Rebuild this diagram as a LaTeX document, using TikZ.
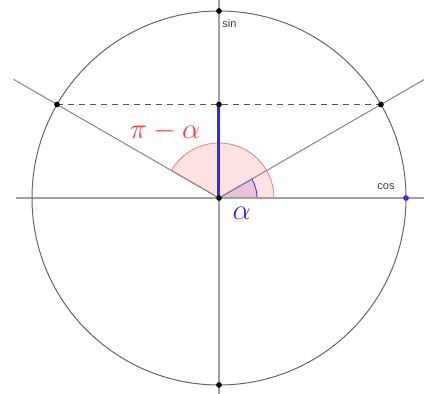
\documentclass[tikz,border=0pt]{standalone}
\usepackage{fontspec}
\newfontfamily\axisfont{Liberation Sans}
\usetikzlibrary{calc}
\definecolor{ggGrey}{HTML}{666666}
\definecolor{ggLight}{HTML}{A0A0A0}
\definecolor{ggDash}{HTML}{555555}
\definecolor{ggRed}{HTML}{FF3B3B}
\definecolor{ggBlue}{HTML}{2A2AFF}
\tikzset{
  axisline/.style  = {ggLight, line width=0.7pt},
  rayline/.style   = {ggGrey!80, line width=0.5pt},
  unitcirc/.style  = {ggGrey, line width=0.5pt},
  chord/.style     = {ggDash, dashed, dash pattern=on 3pt off 2.5pt, line width=0.5pt},
  sinseg/.style    = {ggBlue, line width=1.5pt},
  redsect/.style   = {fill=ggRed, fill opacity=0.15, draw=ggRed!70, line width=0.4pt},
  bluesect/.style  = {fill=ggBlue!60!ggRed, fill opacity=0.18, draw=ggBlue, line width=0.4pt},
  ptdot/.style     = {circle, fill=black, inner sep=1pt},
  bluedot/.style   = {circle, fill=ggBlue, inner sep=1pt},
  axlbl/.style     = {font=\axisfont\fontsize{5.5}{6}\selectfont, ggGrey!60!black},
}
\begin{document}
\begin{tikzpicture}[x=0.5pt, y=0.5pt]
  \useasboundingbox (-219,-196) rectangle (205,198);
  \def\R{187}

  \coordinate (O) at (0,0);
  \coordinate (P) at (30:\R);
  \coordinate (Q) at (150:\R);
  \coordinate (S) at (0,{\R*sin(30)});

  % angle sectors
  \filldraw[redsect] (O) -- (55,0) arc[start angle=0, end angle=150, radius=55] -- cycle;
  \filldraw[bluesect] (O) -- (38,0) arc[start angle=0, end angle=30, radius=38] -- cycle;

  % axes, circle, rays
  \draw[axisline] (-203,0) -- (205,0);
  \draw[axisline] (0,-196) -- (0,198);
  \draw[unitcirc] (O) circle[radius=\R];
  \draw[rayline] (O) -- (30:237);
  \draw[rayline] (O) -- (150:237);
  \draw[chord] (Q) -- (P);
  \draw[sinseg] (O) -- (S);

  % points
  \node[ptdot] at (O) {};
  \node[ptdot] at (P) {};
  \node[ptdot] at (Q) {};
  \node[ptdot] at (S) {};
  \node[ptdot] at (0,\R) {};
  \node[ptdot] at (0,-\R) {};
  \node[bluedot] at (\R,0) {};

  % labels
  \node[axlbl] at (10.5,174) {sin};
  \node[axlbl] at (167,11) {cos};
  \node[ggRed, font=\Large] at (-54,66.5) {$\pi-\alpha$};
  \node[ggBlue, font=\Large] at (22.7,-15) {$\alpha$};
\end{tikzpicture}
\end{document}
